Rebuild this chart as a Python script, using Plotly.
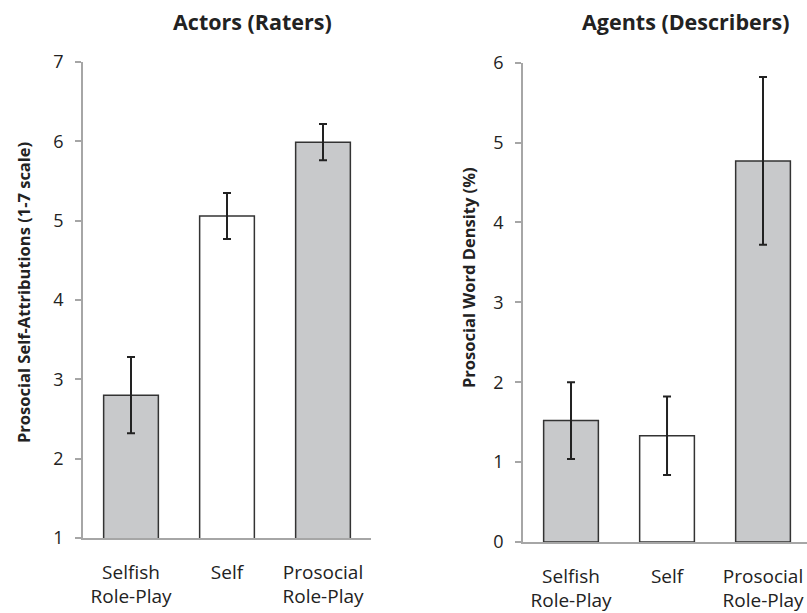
import plotly.graph_objects as go

# Categories shared by both panels
categories = ["Selfish<br>Role-Play", "Self", "Prosocial<br>Role-Play"]

# Actors (Raters): prosocial self-attributions on a 1-7 scale
actor_means = [2.80, 5.06, 5.99]
actor_err_hi = [0.48, 0.29, 0.23]
actor_err_lo = [0.48, 0.29, 0.23]

# Agents (Describers): prosocial word density (%)
agent_means = [1.52, 1.33, 4.77]
agent_err_hi = [0.48, 0.49, 1.05]
agent_err_lo = [0.48, 0.49, 1.05]

bar_colors = ["#c8c9cb", "#ffffff", "#c8c9cb"]
W, H = 807, 613
FONT = "Open Sans"
TXT = "#222222"
AX = "#a6a6a6"


def px_x(p):
    return p / W


def px_y(p):
    return 1 - p / H


fig = go.Figure()

fig.add_trace(go.Bar(
    x=categories, y=actor_means,
    marker=dict(color=bar_colors, line=dict(color="#333333", width=1.5)),
    width=0.57,
    error_y=dict(type="data", symmetric=False, array=actor_err_hi,
                 arrayminus=actor_err_lo, color="#222222", thickness=2, width=4),
    xaxis="x", yaxis="y", showlegend=False,
))
fig.add_trace(go.Bar(
    x=categories, y=agent_means,
    marker=dict(color=bar_colors, line=dict(color="#333333", width=1.5)),
    width=0.57,
    error_y=dict(type="data", symmetric=False, array=agent_err_hi,
                 arrayminus=agent_err_lo, color="#222222", thickness=2, width=4),
    xaxis="x2", yaxis="y2", showlegend=False,
))

common_x = dict(
    type="category", showline=True, linecolor=AX, linewidth=1.5,
    ticks="", showgrid=False, zeroline=False, automargin=False,
    tickfont=dict(family=FONT, size=19, color=TXT),
    ticklabelstandoff=16,
)
common_y = dict(
    showline=True, linecolor=AX, linewidth=1.5, ticks="outside",
    ticklen=6, tickcolor=AX, tickwidth=1.5, showgrid=False, zeroline=False,
    automargin=False,
    tickfont=dict(family=FONT, size=18, color=TXT), dtick=1,
    ticklabelstandoff=8,
)

title_font = dict(family=FONT, size=21.5, color=TXT)
ytitle_font = dict(family=FONT, size=16.5, color=TXT)

fig.update_layout(
    width=W, height=H,
    margin=dict(l=0, r=0, t=0, b=0),
    paper_bgcolor="white", plot_bgcolor="white",
    xaxis=dict(common_x, domain=[px_x(83), px_x(371)], range=[-0.5, 2.5],
               anchor="y"),
    yaxis=dict(common_y, domain=[px_y(538), px_y(62)], range=[1, 7],
               anchor="x"),
    xaxis2=dict(common_x, domain=[px_x(523), 1.0], range=[-0.5, 2.458],
                anchor="y2"),
    yaxis2=dict(common_y, domain=[px_y(542), px_y(62.7)], range=[0, 6],
                anchor="x2"),
    annotations=[
        dict(text="<b>Actors (Raters)</b>", x=px_x(252), y=px_y(21),
             xref="paper", yref="paper", showarrow=False,
             xanchor="center", yanchor="middle", font=title_font),
        dict(text="<b>Agents (Describers)</b>", x=px_x(685), y=px_y(21),
             xref="paper", yref="paper", showarrow=False,
             xanchor="center", yanchor="middle", font=title_font),
        dict(text="<b>Prosocial Self-Attributions (1-7 scale)</b>",
             x=px_x(23), y=px_y(293), xref="paper", yref="paper",
             showarrow=False, textangle=-90,
             xanchor="center", yanchor="middle", font=ytitle_font),
        dict(text="<b>Prosocial Word Density (%)</b>",
             x=px_x(468), y=px_y(278), xref="paper", yref="paper",
             showarrow=False, textangle=-90,
             xanchor="center", yanchor="middle", font=ytitle_font),
    ],
)

fig.write_html("out.html")
